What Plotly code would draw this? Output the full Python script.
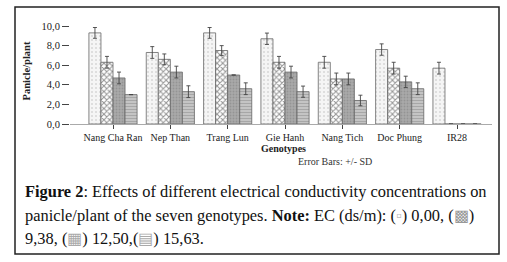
import plotly.graph_objects as go

genotypes = ["Nang Cha Ran", "Nep Than", "Trang Lun", "Gie Hanh", "Nang Tich", "Doc Phung", "IR28"]
ec_levels = ["0,00", "9,38", "12,50", "15,63"]
values = {
    "0,00":  [9.3, 7.3, 9.3, 8.7, 6.3, 7.6, 5.7],
    "9,38":  [6.3, 6.6, 7.5, 6.3, 4.6, 5.7, 0.0],
    "12,50": [4.7, 5.3, 5.0, 5.3, 4.6, 4.3, 0.0],
    "15,63": [3.0, 3.3, 3.6, 3.3, 2.4, 3.6, 0.0],
}
errors = {
    "0,00":  [0.55, 0.6, 0.55, 0.58, 0.6, 0.58, 0.6],
    "9,38":  [0.6, 0.55, 0.5, 0.6, 0.6, 0.6, 0.0],
    "12,50": [0.6, 0.6, 0.0, 0.6, 0.6, 0.58, 0.0],
    "15,63": [0.0, 0.6, 0.6, 0.57, 0.54, 0.6, 0.0],
}
tick_vals = [0, 2, 4, 6, 8, 10]

styles = {
    "0,00":  dict(shape=".", fgcolor="#b8b8b8", bgcolor="#f5f5f5", size=4, solidity=0.2),
    "9,38":  dict(shape="x", fgcolor="#2a2a2a", bgcolor="#ffffff", size=4, solidity=0.45),
    "12,50": dict(shape=".", fgcolor="#808080", bgcolor="#a9a9a9", size=3, solidity=0.3),
    "15,63": dict(shape="-", fgcolor="#8a8a8a", bgcolor="#c4c4c4", size=3, solidity=0.35),
}

W, H = 507, 262
L, R, T, B = 70, 15, 18, 138
pw, ph = W - L - R, H - T - B

def px(x):
    return (x - L) / pw

def py(y):
    return (H - B - y) / ph

fig = go.Figure()
for lvl in ec_levels:
    vis_err = [e if v > 0 else 0 for v, e in zip(values[lvl], errors[lvl])]
    fig.add_trace(go.Bar(
        x=genotypes, y=values[lvl], name=lvl,
        marker=dict(color=styles[lvl]["bgcolor"], pattern=styles[lvl],
                    line=dict(color="#666666", width=0.8)),
        error_y=dict(type="data", array=vis_err, visible=True,
                     color="#444444", thickness=0.9, width=2),
        showlegend=False,
    ))

serif = "Liberation Serif, Times New Roman, serif"
fig.update_layout(
    width=W, height=H,
    margin=dict(l=L, r=R, t=T, b=B),
    paper_bgcolor="white", plot_bgcolor="white",
    barmode="group", bargap=0.16, bargroupgap=0,
    separators=", ",
    font=dict(family=serif, size=10, color="#222"),
    xaxis=dict(range=[-0.75, 6.61], showline=True, linecolor="#aaaaaa", linewidth=1,
               ticks="outside", ticklen=4, tickcolor="#444", tickwidth=1,
               tickfont=dict(family=serif, size=10, color="#222"),
               showgrid=False, zeroline=False, automargin=False),
    yaxis=dict(range=[0, 10.82], tickvals=tick_vals, tickformat=".1f",
               ticks="outside", ticklen=7, tickcolor="#444", tickwidth=1,
               showline=False, showgrid=False, zeroline=False, automargin=False,
               tickfont=dict(family=serif, size=10.5, color="#222"),
               title=dict(text="<b>Panicle/plant</b>", font=dict(family=serif, size=10.5), standoff=8)),
)

fig.add_annotation(text="<b>Genotypes</b>", xref="paper", yref="paper",
                   x=px(283), y=py(155.5), showarrow=False,
                   font=dict(family=serif, size=10, color="#222"))
fig.add_annotation(text="Error Bars: +/- SD", xref="paper", yref="paper",
                   x=px(335), y=py(168.5), showarrow=False,
                   font=dict(family=serif, size=10, color="#333"))

lines = [
    "<b>Figure 2</b>: Effects of different electrical conductivity concentrations on",
    "panicle/plant of the seven genotypes. <b>Note:</b> EC (ds/m): (<span style='color:#bbbbbb'>▫</span>) 0,00, (<span style='color:#999999'>▩</span>)",
    "9,38, (<span style='color:#aaaaaa'>▦</span>) 12,50,(<span style='color:#aaaaaa'>▤</span>) 15,63.",
]
for ln, yy in zip(lines, [191, 215, 238]):
    fig.add_annotation(text=ln, xref="paper", yref="paper", x=px(23), y=py(yy),
                       xanchor="left", yanchor="middle", showarrow=False,
                       font=dict(family=serif, size=16.4, color="#111"))

fig.add_shape(type="rect", xref="paper", yref="paper",
              x0=px(15), x1=px(499), y0=py(7), y1=py(254),
              line=dict(color="#222", width=1.5), fillcolor="rgba(0,0,0,0)")

fig.write_html("out.html", config={"displayModeBar": False},
               post_script="document.body.style.margin='0';document.documentElement.style.overflow='hidden';")
